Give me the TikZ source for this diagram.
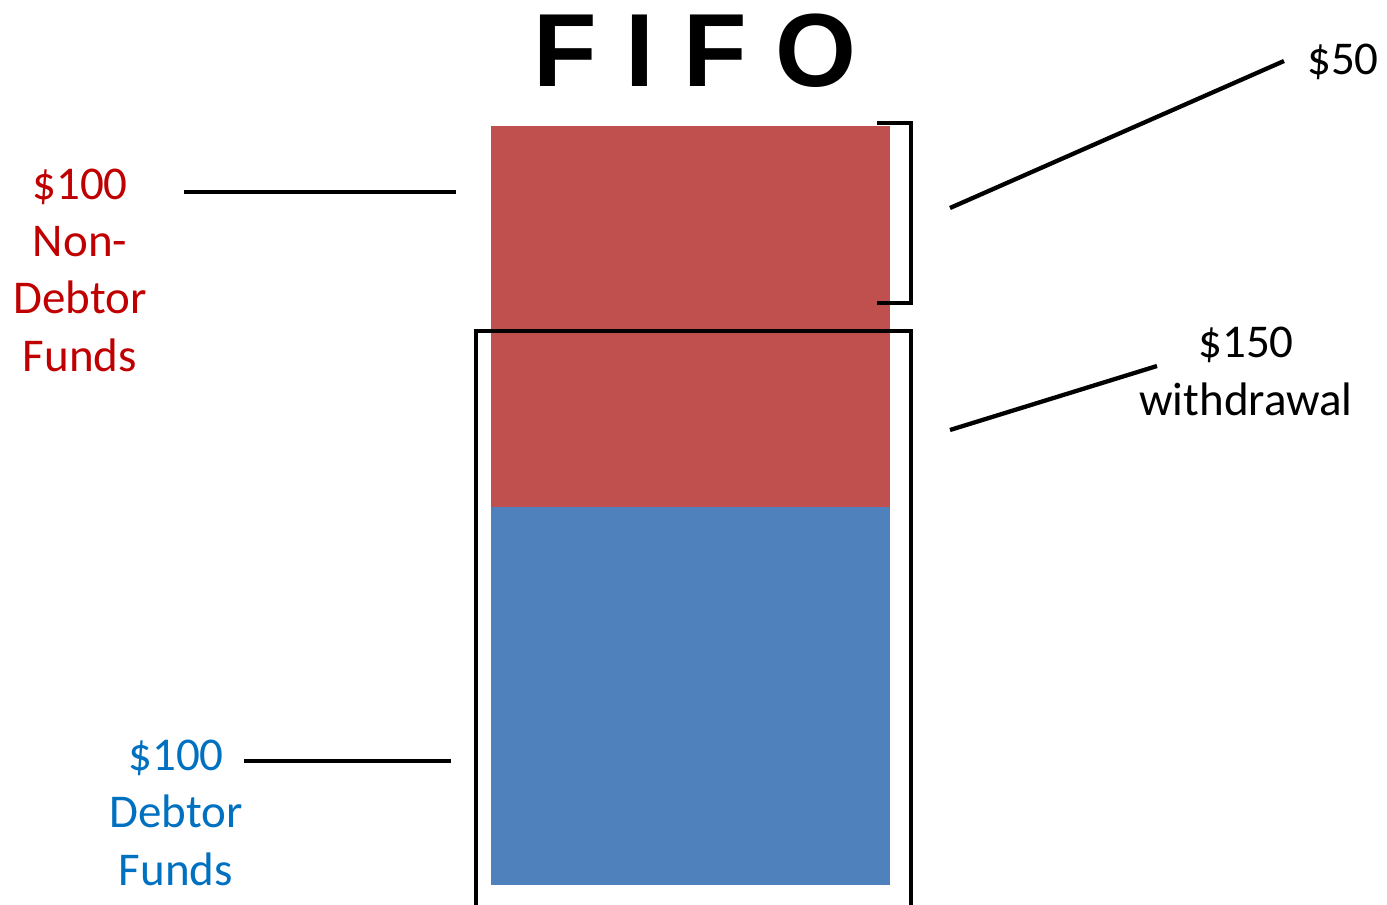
\documentclass[tikz,border=0pt]{standalone}
\usepackage{fontspec}
\setmainfont{Carlito}
\newfontfamily\titlefont{Liberation Sans}
\definecolor{barred}{HTML}{C0504D}
\definecolor{barblue}{HTML}{4F81BD}
\definecolor{txtred}{HTML}{C00000}
\definecolor{txtblue}{HTML}{0070C0}
\tikzset{
  lbl/.style={inner sep=0pt, align=center, font=\fontsize{47}{57.3}\selectfont, anchor=base},
  lead/.style={line width=4.3pt, black},
  brk/.style={line width=4.3pt, black},
}
\begin{document}
\begin{tikzpicture}[x=1pt,y=-1pt]
\useasboundingbox (0,0) rectangle (1387,905);
% bars
\fill[barred] (491,126) rectangle (890,507);
\fill[barblue] (491,507) rectangle (890,885);
% brackets
\draw[brk] (877,123) -- (911,123) -- (911,303) -- (877,303);
\draw[brk] (476,910) -- (476,331) -- (911,331) -- (911,910);
% title
\node[inner sep=0pt, anchor=base, font=\titlefont\bfseries\fontsize{104}{115}\selectfont] (title) at (695,86) {F I F O};
% labels
\node[lbl, text=txtred] (nondebtor) at (80,371) {\$100\\Non-\\Debtor\\Funds};
\node[lbl, text=txtblue] (debtor) at (176,885) {\$100\\Debtor\\Funds};
\node[lbl, anchor=base west] (fifty) at (1307,74) {\$50};
\node[lbl] (withdraw) at (1246,415) {\$150\\withdrawal};
% leader lines
\coordinate (a1) at (184,192); \coordinate (a2) at (456,192);
\coordinate (b1) at (244,761); \coordinate (b2) at (451,761);
\coordinate (c1) at (950,208); \coordinate (c2) at (1284,61);
\coordinate (d1) at (950,430); \coordinate (d2) at (1157,366);
\draw[lead] (a1) -- (a2);
\draw[lead] (b1) -- (b2);
\draw[lead] (c1) -- (c2);
\draw[lead] (d1) -- (d2);
\end{tikzpicture}
\end{document}
